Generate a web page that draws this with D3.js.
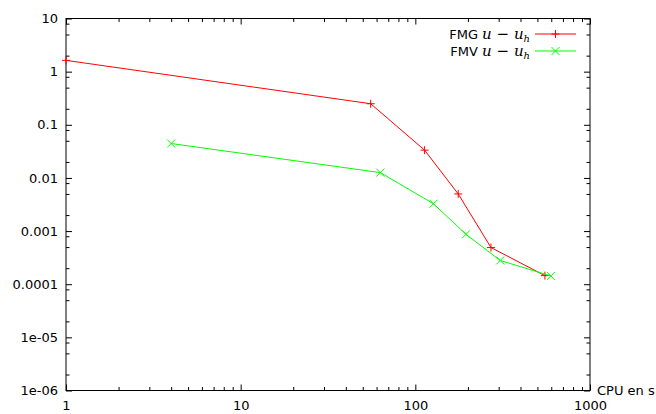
<!DOCTYPE html>
<html><head><meta charset="utf-8">
<script src="https://cdn.jsdelivr.net/npm/d3@7"></script>
<style>
html,body{margin:0;padding:0;background:#fff;}
svg{display:block;}
text{font-family:"DejaVu Sans",sans-serif;font-size:13px;fill:#000;}
</style></head>
<body>
<script>
// Data
const cpuFMG = [1, 55.5, 113, 176, 271, 552];
const errFMG = [1.63, 0.249, 0.0333, 0.0050, 0.00049, 0.000145];
const cpuFMV = [4.0, 63, 127, 195, 306, 597];
const errFMV = [0.0444, 0.0126, 0.00327, 0.00087, 0.00028, 0.000143];
const xTickValues = [1, 10, 100, 1000];
const xTickLabels = ["1", "10", "100", "1000"];
const yTickValues = [1e-6, 1e-5, 1e-4, 1e-3, 1e-2, 1e-1, 1, 10];
const yTickLabels = ["1e-06", "1e-05", "0.0001", "0.001", "0.01", "0.1", "1", "10"];
const seriesNames = ["FMG", "FMV"];
const xLabel = "CPU en s";

const W = 656, H = 414;
const L = 66, R = 590, T = 18.5, B = 390.5;

const svg = d3.select("body").append("svg").attr("width", W).attr("height", H);
const x = d3.scaleLog().domain([1, 1000]).range([L, R]);
const y = d3.scaleLog().domain([1e-6, 10]).range([B, T]);

// minor ticks
const xMinor = [];
for (let d = 1; d < 1000; d *= 10) for (let k = 2; k <= 9; k++) xMinor.push(d * k);
const yMinor = [];
for (let d = 1e-6; d < 10 * 0.999; d *= 10) for (const k of [2, 5, 8]) yMinor.push(d * k);

function styleAxis(g) {
  g.select(".domain").remove();
  g.selectAll("line").attr("stroke", "#000").attr("stroke-width", 1);
}
const ML = 6, mL = 3.5;
// bottom
svg.append("g").attr("transform", `translate(0,${B})`)
  .call(d3.axisBottom(x).tickValues(xTickValues).tickSize(-ML).tickPadding(14)
    .tickFormat((d, i) => xTickLabels[i])).call(styleAxis)
  .call(g => g.selectAll("text").attr("dy", "0.71em").attr("y", 10));
svg.append("g").attr("transform", `translate(0,${B})`)
  .call(d3.axisBottom(x).tickValues(xMinor).tickSize(-mL).tickFormat("")).call(styleAxis);
// top
svg.append("g").attr("transform", `translate(0,${T})`)
  .call(d3.axisTop(x).tickValues(xTickValues).tickSize(-ML).tickFormat("")).call(styleAxis);
svg.append("g").attr("transform", `translate(0,${T})`)
  .call(d3.axisTop(x).tickValues(xMinor).tickSize(-mL).tickFormat("")).call(styleAxis);
// left
svg.append("g").attr("transform", `translate(${L},0)`)
  .call(d3.axisLeft(y).tickValues(yTickValues).tickSize(-ML).tickPadding(8)
    .tickFormat((d, i) => yTickLabels[i])).call(styleAxis)
  .call(g => g.selectAll("text").attr("x", -8));
svg.append("g").attr("transform", `translate(${L},0)`)
  .call(d3.axisLeft(y).tickValues(yMinor).tickSize(-mL).tickFormat("")).call(styleAxis);
// right
svg.append("g").attr("transform", `translate(${R},0)`)
  .call(d3.axisRight(y).tickValues(yTickValues).tickSize(-ML).tickFormat("")).call(styleAxis);
svg.append("g").attr("transform", `translate(${R},0)`)
  .call(d3.axisRight(y).tickValues(yMinor).tickSize(-mL).tickFormat("")).call(styleAxis);

// border
svg.append("rect").attr("x", L).attr("y", T).attr("width", R - L).attr("height", B - T)
  .attr("fill", "none").attr("stroke", "#000").attr("stroke-width", 1);

// x label
svg.append("text").attr("x", R + 7).attr("y", B).attr("dy", "0.35em").text(xLabel);

// series
const series = [
  { name: seriesNames[0], xs: cpuFMG, ys: errFMG, color: "#ff0000", marker: "plus" },
  { name: seriesNames[1], xs: cpuFMV, ys: errFMV, color: "#00ff00", marker: "cross" }
];
const line = d3.line().x(d => x(d[0])).y(d => y(d[1]));
function marker(g, cx, cy, type, color) {
  const s = 4;
  const p = type === "plus"
    ? `M${cx - s},${cy}H${cx + s}M${cx},${cy - s}V${cy + s}`
    : `M${cx - s},${cy - s}L${cx + s},${cy + s}M${cx - s},${cy + s}L${cx + s},${cy - s}`;
  g.append("path").attr("d", p).attr("stroke", color).attr("stroke-width", 1).attr("fill", "none");
}
series.forEach((s, si) => {
  const pts = s.xs.map((v, i) => [v, s.ys[i]]);
  const g = svg.append("g");
  g.append("path").attr("d", line(pts)).attr("fill", "none").attr("stroke", s.color).attr("stroke-width", 1);
  pts.forEach(p => marker(g, x(p[0]), y(p[1]), s.marker, s.color));

  // legend
  const ly = 34 + si * 17;
  const t = svg.append("text").attr("x", 530).attr("y", ly).attr("dy", "0.35em").attr("text-anchor", "end");
  t.append("tspan").text(s.name + " ");
  t.append("tspan").attr("font-family", "DejaVu Serif").attr("font-style", "italic").attr("font-size", "15px").text("u");
  t.append("tspan").attr("font-family", "DejaVu Serif").attr("font-size", "15px").text(" \u2212 ");
  t.append("tspan").attr("font-family", "DejaVu Serif").attr("font-style", "italic").attr("font-size", "15px").text("u");
  t.append("tspan").attr("font-family", "DejaVu Serif").attr("font-style", "italic").attr("font-size", "10px").attr("dy", "3").text("h");
  svg.append("line").attr("x1", 535).attr("x2", 576).attr("y1", ly).attr("y2", ly)
    .attr("stroke", s.color).attr("stroke-width", 1);
  marker(svg, 555.5, ly, s.marker, s.color);
});
</script>
</body></html>
